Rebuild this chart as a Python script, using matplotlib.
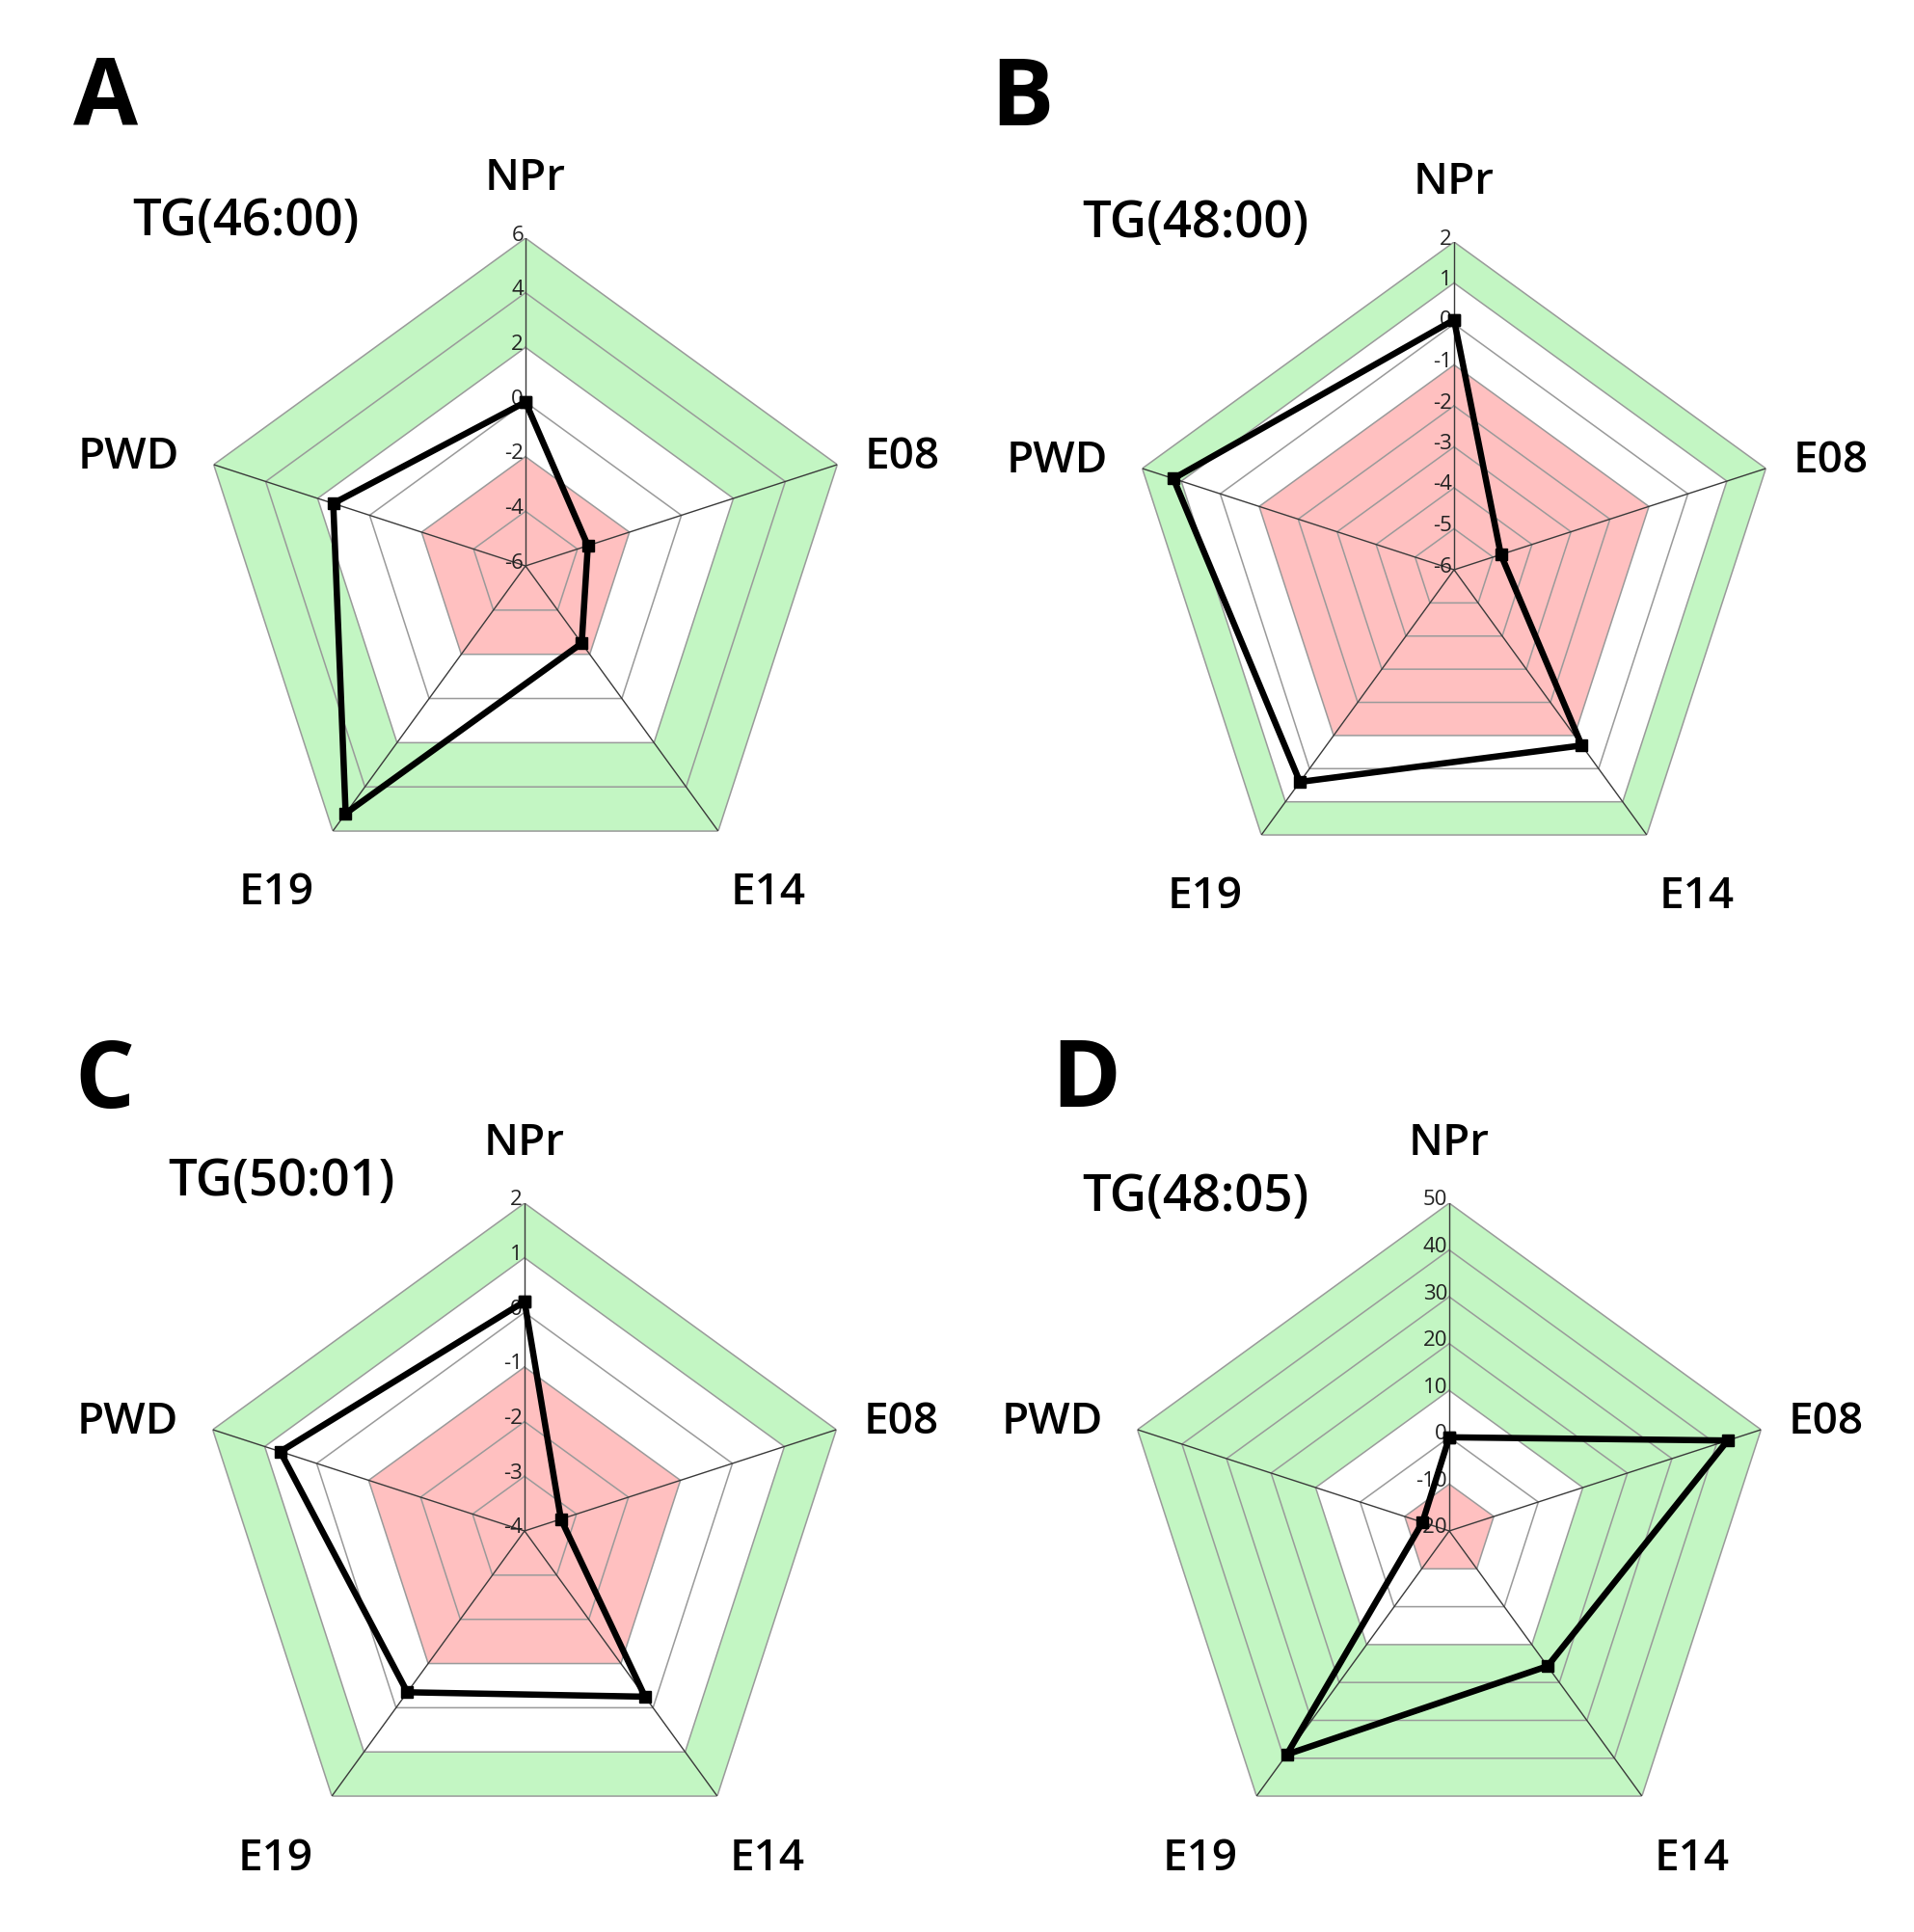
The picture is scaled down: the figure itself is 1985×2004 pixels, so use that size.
import numpy as np
import matplotlib
matplotlib.use("Agg")
import matplotlib.pyplot as plt
from matplotlib import transforms

plt.rcParams['font.family'] = ['Open Sans', 'DejaVu Sans']

## axes of the radar, clockwise from the top
axis_names = ["NPr", "E08", "E14", "E19", "PWD"]

## panel letters and titles
letters = ["A", "B", "C", "D"]
titles = ["TG(46:00)", "TG(48:00)", "TG(50:01)", "TG(48:05)"]

## values (same order as axis_names)
vals_A = [0.0, -3.6, -2.5, 5.2, 1.4]
vals_B = [0.1, -4.8, -0.7, 0.4, 1.2]
vals_C = [0.2, -3.3, -0.25, -0.35, 0.7]
vals_D = [0.0, 42.5, 15.7, 39.0, -14.0]

## scale of each panel: min, max, step
scale_A = [-6, 6, 2]
scale_B = [-6, 2, 1]
scale_C = [-4, 2, 1]
scale_D = [-20, 50, 10]

## background bands: green up to max, white up to upper, pink up to lower
bands_A = [2, -2]
bands_B = [1, -1]
bands_C = [1, -1]
bands_D = [10, -10]

all_vals = [vals_A, vals_B, vals_C, vals_D]
all_scales = [scale_A, scale_B, scale_C, scale_D]
all_bands = [bands_A, bands_B, bands_C, bands_D]

W, H = 1985, 2004
fig = plt.figure(figsize=(W / 100, H / 100), dpi=100)

# centres of the four radars in pixels (from top left) and radius
centres = [(545, 587), (1508, 591), (544, 1588), (1503, 1588)]
R = 340
title_pos = [(255, 230), (1240, 233), (292, 1226), (1240, 1243)]
letter_pos = [(110, 104), (1060, 104), (108, 1124), (1126, 1122)]

# where the axis names sit, in radii from the centre (x right, y up)
name_off = [(0, 1.18), (1.15, 0.33), (0.74, -1.0), (-0.76, -1.0), (-1.21, 0.33)]

green = "#c3f6c3"
pink = "#ffc0c0"

n = len(axis_names)
theta = np.arange(n) * 2 * np.pi / n
theta_c = np.append(theta, theta[0])

for k in range(4):
    cx, cy = centres[k]
    ax = fig.add_axes([(cx - R) / W, (H - cy - R) / H, 2 * R / W, 2 * R / H],
                      projection='polar')
    ax.set_theta_zero_location('N')
    ax.set_theta_direction(-1)
    lo, hi, step = all_scales[k]
    ax.set_ylim(lo, hi)
    ax.grid(False)
    ax.set_xticks([])
    ax.set_yticks([])
    ax.spines['polar'].set_visible(False)
    ax.patch.set_visible(False)

    upper, lower = all_bands[k]
    ax.fill(theta_c, [hi] * (n + 1), color=green, lw=0, zorder=1)
    ax.fill(theta_c, [upper] * (n + 1), color="white", lw=0, zorder=1)
    ax.fill(theta_c, [lower] * (n + 1), color=pink, lw=0, zorder=1)

    rings = np.arange(lo, hi + step / 2, step)
    for r in rings[1:]:
        ax.plot(theta_c, [r] * (n + 1), color="#9a9a9a", lw=1.1, zorder=2)
    for t in theta:
        ax.plot([t, t], [lo, hi], color="#3a3a3a", lw=1.0, zorder=3)

    # tick labels to the left of the top axis
    off = transforms.offset_copy(ax.transData, fig=fig, x=-2, y=3, units='dots')
    for r in rings:
        ax.text(0, r, "%d" % r, transform=off, ha='right', va='center',
                fontsize=16, color="#222222", zorder=4)

    v = all_vals[k]
    ax.plot(theta_c, v + [v[0]], color="black", lw=4.7, marker="s",
            markersize=9, zorder=5, clip_on=False)

    for i, name in enumerate(axis_names):
        dx, dy = name_off[i]
        ax.text(0.5 + 0.5 * dx, 0.5 + 0.5 * dy, name, transform=ax.transAxes,
                ha='center', va='center', fontsize=33, fontweight='semibold',
                clip_on=False)

    tx, ty = title_pos[k]
    fig.text(tx / W, 1 - ty / H, titles[k], ha='center', va='center',
             fontsize=38, fontweight='semibold')
    lx, ly = letter_pos[k]
    fig.text(lx / W, 1 - ly / H, letters[k], ha='center', va='center',
             fontsize=70, fontweight='bold')

fig.savefig("out.png", dpi=100)
